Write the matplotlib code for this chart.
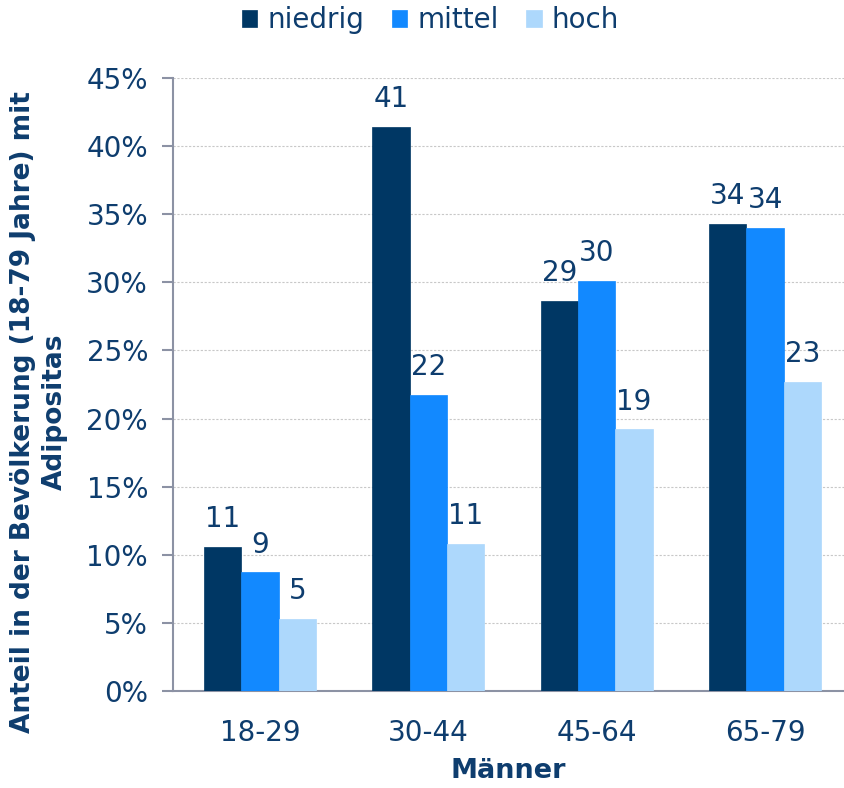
import matplotlib.pyplot as plt
import numpy as np
from matplotlib.ticker import MultipleLocator, FuncFormatter

groups = ["18-29", "30-44", "45-64", "65-79"]
niedrig = [10.6, 41.4, 28.6, 34.3]
mittel = [8.7, 21.7, 30.1, 34.0]
hoch = [5.3, 10.8, 19.2, 22.7]

series = [("niedrig", niedrig, "#003764"),
          ("mittel", mittel, "#1289FF"),
          ("hoch", hoch, "#ADD8FC")]

navy = "#0E3D6E"
plt.rcParams['font.family'] = ['DejaVu Sans']

fig = plt.figure(figsize=(8.44, 7.88), dpi=100)
ax = fig.add_axes([0.205, 0.1231, 0.795, 0.778])

x = np.arange(len(groups))
w = 0.222
for i, (name, vals, col) in enumerate(series):
    pos = x + (i - 1) * w
    ax.bar(pos, vals, w, color=col, label=name, zorder=3,
           edgecolor=col, linewidth=0.5)
    for px, v in zip(pos, vals):
        ax.annotate(f"{v:.0f}", (px, v), xytext=(0, 10),
                    textcoords="offset points", ha="center", va="bottom",
                    fontsize=20, color=navy)

ax.set_xlim(-0.516, 3.468)
ax.set_ylim(0, 45)
ax.yaxis.set_major_locator(MultipleLocator(5))
ax.yaxis.set_major_formatter(FuncFormatter(lambda v, p: f"{v:.0f}%"))
ax.set_xticks(x)
ax.set_xticklabels(groups)
ax.tick_params(axis="x", length=0, pad=20, labelsize=20, labelcolor=navy)
ax.tick_params(axis="y", length=8, width=1.5, color="#8C92A4",
               labelsize=20, labelcolor=navy, pad=10)

ax.grid(axis="y", linestyle=(0, (2, 1.5)), color="#C8C8C8", linewidth=0.8, zorder=0)
for s in ["top", "right"]:
    ax.spines[s].set_visible(False)
for s in ["left", "bottom"]:
    ax.spines[s].set_color("#8C92A4")
    ax.spines[s].set_linewidth(1.5)

ax.set_xlabel("Männer", fontsize=19.5, fontweight="bold", color=navy, labelpad=8)
fig.text(0.046, 0.477, "Anteil in der Bevölkerung (18-79 Jahre) mit\nAdipositas",
         rotation=90, ha="center", va="center", multialignment="center",
         fontsize=19, fontweight="bold", color=navy, linespacing=1.3)

fig.legend(loc="upper center", bbox_to_anchor=(0.51, 1.024), ncol=3,
           frameon=False, fontsize=20, labelcolor=navy, handlelength=0.55,
           handleheight=0.55, handletextpad=0.36, columnspacing=1.0)

fig.savefig("out.png", dpi=100)
